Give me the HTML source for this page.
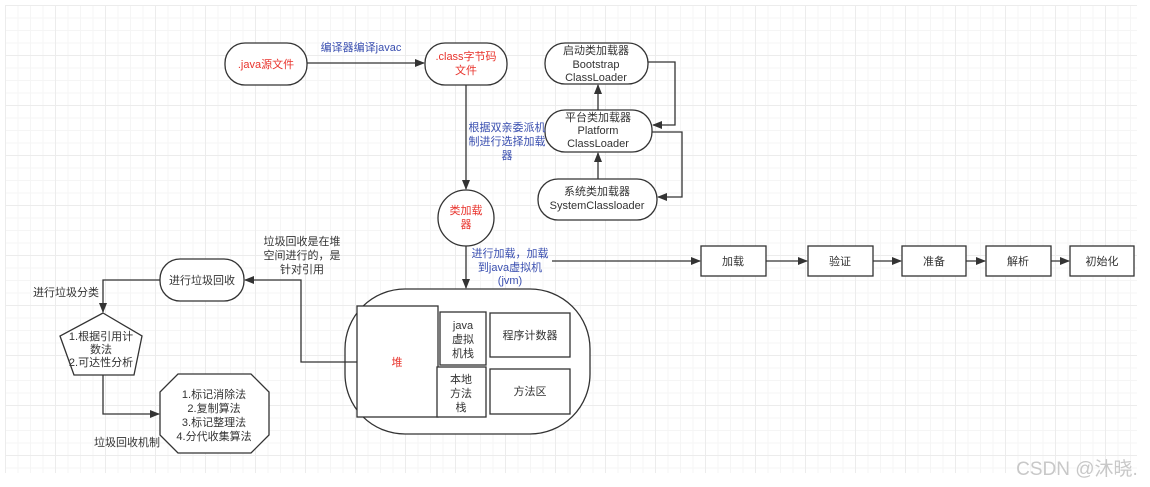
<!DOCTYPE html>
<html><head><meta charset="utf-8"><style>
html,body{margin:0;padding:0;background:#fff;width:1150px;height:487px;overflow:hidden}
.grid{position:absolute;left:5px;top:5px;width:1132px;height:468px;
background-image:
linear-gradient(to right,#ececec 1px,transparent 1px),
linear-gradient(to bottom,#ececec 1px,transparent 1px),
linear-gradient(to right,#f5f5f5 1px,transparent 1px),
linear-gradient(to bottom,#f5f5f5 1px,transparent 1px);
background-size:50px 50px,50px 50px,12.5px 12.5px,12.5px 12.5px;}
svg{position:absolute;left:0;top:0}
text{font-family:"Liberation Sans","Noto Sans CJK SC",sans-serif;font-size:11px;fill:#333;text-anchor:middle}
.r{fill:#e8332c}.b{fill:#3a4fb0}
</style></head><body>
<div class="grid"></div>
<svg width="1150" height="487" viewBox="0 0 1150 487">
<defs><marker id="a" markerWidth="10" markerHeight="8" refX="9" refY="4" orient="auto" markerUnits="userSpaceOnUse"><path d="M0,0 L10,4 L0,8 Z" fill="#333"/></marker></defs>
<g fill="#fff" stroke="#333" stroke-width="1.3">
<rect x="225" y="43" width="82" height="42" rx="20"/>
<rect x="425" y="43" width="82" height="42" rx="20"/>
<rect x="545" y="43" width="103" height="41" rx="20"/>
<rect x="545" y="110" width="107" height="42" rx="20"/>
<rect x="538" y="179" width="119" height="41" rx="20"/>
<circle cx="466" cy="218" r="28"/>
<rect x="701" y="246" width="65" height="30"/>
<rect x="808" y="246" width="65" height="30"/>
<rect x="902" y="246" width="64" height="30"/>
<rect x="986" y="246" width="65" height="30"/>
<rect x="1070" y="246" width="64" height="30"/>
<rect x="345" y="289" width="245" height="145" rx="60"/>
<rect x="357" y="306" width="81" height="111"/>
<rect x="440" y="312" width="46" height="53"/>
<rect x="437" y="367" width="49" height="50"/>
<rect x="490" y="313" width="80" height="44"/>
<rect x="490" y="369" width="80" height="45"/>
<rect x="160" y="259" width="84" height="42" rx="20"/>
<polygon points="103,313 142,336 134,375 74,375 60,336"/>
<polygon points="178,374 251,374 269,392 269,435 251,453 178,453 160,435 160,392"/>
</g>
<g fill="none" stroke="#333" stroke-width="1.3">
<line x1="307" y1="63" x2="424" y2="63" marker-end="url(#a)"/>
<line x1="466" y1="85" x2="466" y2="189" marker-end="url(#a)"/>
<line x1="466" y1="246" x2="466" y2="288" marker-end="url(#a)"/>
<line x1="552" y1="261" x2="700" y2="261" marker-end="url(#a)"/>
<line x1="766" y1="261" x2="807" y2="261" marker-end="url(#a)"/>
<line x1="873" y1="261" x2="901" y2="261" marker-end="url(#a)"/>
<line x1="966" y1="261" x2="985" y2="261" marker-end="url(#a)"/>
<line x1="1051" y1="261" x2="1069" y2="261" marker-end="url(#a)"/>
<line x1="598" y1="110" x2="598" y2="85" marker-end="url(#a)"/>
<line x1="598" y1="179" x2="598" y2="153" marker-end="url(#a)"/>
<polyline points="648,62 675,62 675,125 653,125" marker-end="url(#a)"/>
<polyline points="652,132 682,132 682,197 658,197" marker-end="url(#a)"/>
<polyline points="357,362 301,362 301,280 245,280" marker-end="url(#a)"/>
<polyline points="160,280 103,280 103,312" marker-end="url(#a)"/>
<polyline points="103,375 103,414 159,414" marker-end="url(#a)"/>
</g>
<text x="266" y="68" class="r">.java源文件</text>
<text x="466" y="60" class="r">.class字节码</text>
<text x="466" y="74" class="r">文件</text>
<text x="361" y="51" class="b">编译器编译javac</text>
<text x="507" y="131" class="b">根据双亲委派机</text>
<text x="507" y="145" class="b">制进行选择加载</text>
<text x="507" y="159" class="b">器</text>
<text x="466" y="214" class="r">类加载</text>
<text x="466" y="228" class="r">器</text>
<text x="596" y="54">启动类加载器</text>
<text x="596" y="68">Bootstrap</text>
<text x="596" y="81">ClassLoader</text>
<text x="598" y="121">平台类加载器</text>
<text x="598" y="134">Platform</text>
<text x="598" y="147">ClassLoader</text>
<text x="597" y="195">系统类加载器</text>
<text x="597" y="209">SystemClassloader</text>
<text x="510" y="257" class="b">进行加载，加载</text>
<text x="510" y="271" class="b">到java虚拟机</text>
<text x="510" y="284" class="b">(jvm)</text>
<text x="733" y="265">加载</text>
<text x="840" y="265">验证</text>
<text x="934" y="265">准备</text>
<text x="1018" y="265">解析</text>
<text x="1102" y="265">初始化</text>
<text x="397" y="366" class="r">堆</text>
<text x="463" y="329">java</text>
<text x="463" y="343">虚拟</text>
<text x="463" y="357">机栈</text>
<text x="461" y="383">本地</text>
<text x="461" y="397">方法</text>
<text x="461" y="411">栈</text>
<text x="530" y="339">程序计数器</text>
<text x="530" y="395">方法区</text>
<text x="202" y="284">进行垃圾回收</text>
<text x="302" y="245">垃圾回收是在堆</text>
<text x="302" y="259">空间进行的，是</text>
<text x="302" y="273">针对引用</text>
<text x="66" y="296">进行垃圾分类</text>
<text x="101" y="340">1.根据引用计</text>
<text x="101" y="353">数法</text>
<text x="101" y="366">2.可达性分析</text>
<text x="214" y="398">1.标记消除法</text>
<text x="214" y="412">2.复制算法</text>
<text x="214" y="426">3.标记整理法</text>
<text x="214" y="440">4.分代收集算法</text>
<text x="127" y="446">垃圾回收机制</text>
<text x="1077" y="475" style="font-size:19px;fill:#c8c8c8">CSDN @沐晓.</text>
</svg>
</body></html>
